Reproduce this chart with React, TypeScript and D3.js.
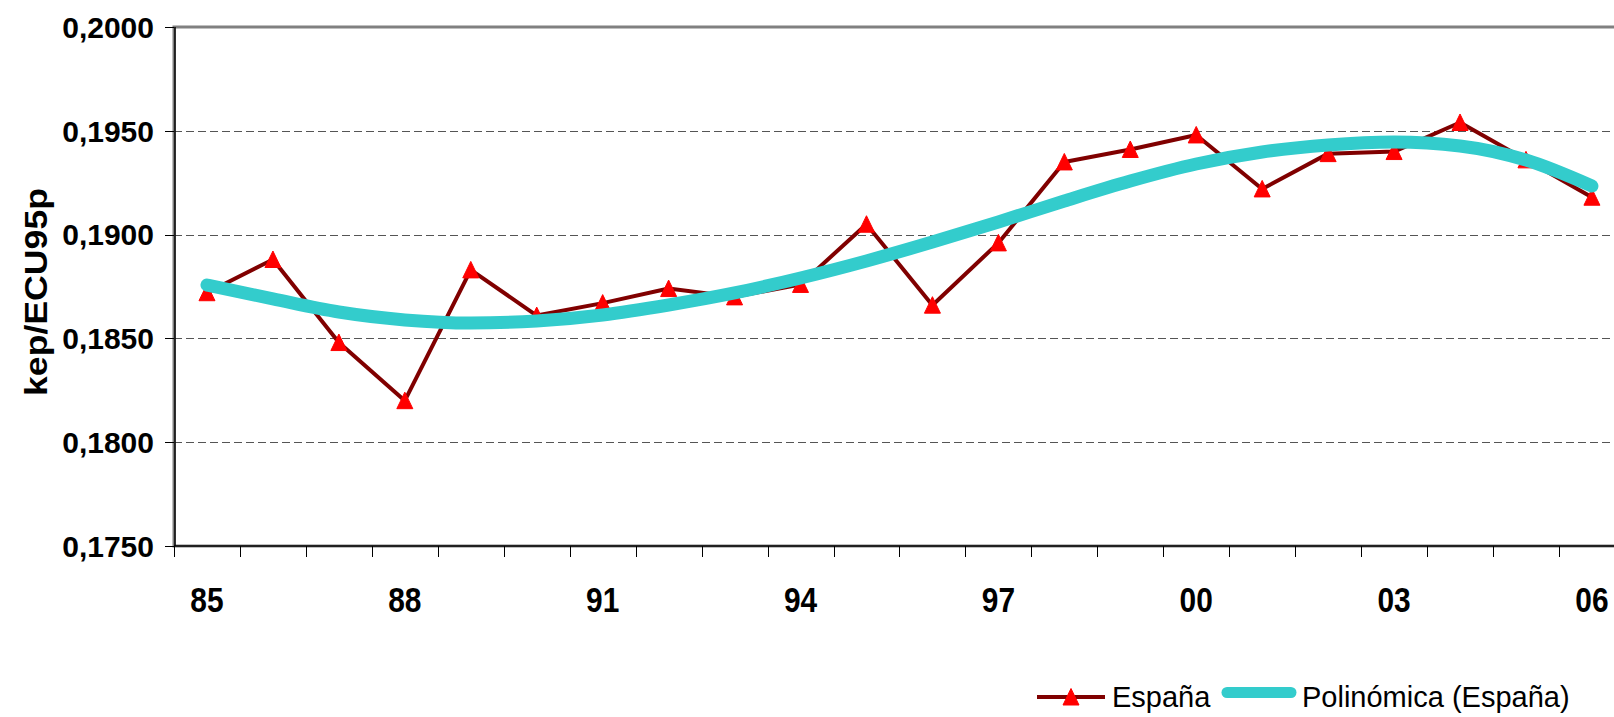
import React from 'react';
import * as d3 from 'd3';

const years = ['85', '86', '87', '88', '89', '90', '91', '92', '93', '94', '95', '96', '97', '98', '99', '00', '01', '02', '03', '04', '05', '06']
const espana = [0.1872, 0.1888, 0.1848, 0.182, 0.1883, 0.1861, 0.1867, 0.1874, 0.187, 0.1876, 0.1905, 0.1866, 0.1896, 0.1935, 0.1941, 0.1948, 0.1922, 0.1939, 0.194, 0.1954, 0.1936, 0.1918]
// polynomial trend at each year
const trend = [0.18757, 0.1869, 0.18627, 0.18589, 0.18574, 0.18584, 0.18613, 0.18661, 0.18719, 0.18791, 0.18873, 0.18964, 0.19061, 0.19162, 0.19258, 0.1934, 0.19398, 0.19432, 0.19446, 0.19427, 0.19359, 0.19234]
const yTicks = [0.175, 0.18, 0.185, 0.19, 0.195, 0.2]
const labelYears = ['85', '88', '91', '94', '97', '00', '03', '06']
const seriesNames = ['España', 'Polinómica (España)']

const W = 1614
const H = 717
const plot = { left: 174, top: 27, bottom: 546, step: 65.95 }
const font = '"Liberation Sans", Arial, sans-serif'
const colors = { line: '#800000', marker: '#FF0000', trend: '#33CCCC', grid: '#555555', frame: '#808080' }

const tri = 'M0,-8.5 L8,8 L-8,8 Z'

export default function App() {
  const right = plot.left + plot.step * years.length
  const x = d3.scaleBand().domain(years).range([plot.left, right]).padding(0)
  const y = d3.scaleLinear().domain([0.175, 0.2]).range([plot.bottom, plot.top])
  const cx = (d: string) => (x(d) as number) + x.bandwidth() / 2
  const crisp = (v: number) => Math.round(v) + 0.5

  const line = d3
    .line<number>()
    .x((d, i) => cx(years[i]))
    .y(d => y(d))
  const trendLine = d3
    .line<number>()
    .x((d, i) => cx(years[i]))
    .y(d => y(d))
    .curve(d3.curveMonotoneX)

  const boundaries = d3.range(years.length + 1).map(i => plot.left + i * x.bandwidth())

  return (
    <svg
      width={W}
      height={H}
      style={{ position: 'absolute', left: 0, top: 0, background: '#fff' }}
    >
      <rect x={0} y={0} width={W} height={H} fill="#fff" />
      {/* gridlines */}
      {yTicks.slice(1, -1).map(t => (
        <line
          key={t}
          x1={plot.left}
          x2={right}
          y1={crisp(y(t))}
          y2={crisp(y(t))}
          stroke={colors.grid}
          strokeWidth={1}
          strokeDasharray="8 4"
        />
      ))}
      {/* plot frame */}
      <rect
        x={plot.left}
        y={plot.top}
        width={right - plot.left}
        height={plot.bottom - plot.top}
        fill="none"
        stroke={colors.frame}
        strokeWidth={3}
      />
      {/* data series */}
      <path d={line(espana) || ''} fill="none" stroke={colors.line} strokeWidth={4} strokeLinejoin="round" />
      {espana.map((v, i) => (
        <path
          key={i}
          d={tri}
          transform={`translate(${cx(years[i])},${y(v)})`}
          fill={colors.marker}
          stroke={colors.marker}
          strokeWidth={1}
          strokeLinejoin="round"
        />
      ))}
      <path
        d={trendLine(trend) || ''}
        fill="none"
        stroke={colors.trend}
        strokeWidth={13}
        strokeLinecap="round"
        strokeLinejoin="round"
      />
      {/* axes */}
      <line x1={plot.left + 1} x2={plot.left + 1} y1={plot.top} y2={plot.bottom} stroke="#000" strokeWidth={1.5} />
      <line x1={plot.left} x2={right} y1={plot.bottom} y2={plot.bottom} stroke="#000" strokeWidth={1.5} />
      {yTicks.map(t => (
        <g key={t}>
          <line x1={165} x2={plot.left} y1={crisp(y(t))} y2={crisp(y(t))} stroke="#000" strokeWidth={1} />
          <text
            x={154}
            y={y(t)}
            dy="0.36em"
            textAnchor="end"
            fontFamily={font}
            fontWeight="bold"
            fontSize={30}
            fill="#000"
          >
            {d3.format('.4f')(t).replace('.', ',')}
          </text>
        </g>
      ))}
      {boundaries.map((b, i) => (
        <line key={i} x1={crisp(b)} x2={crisp(b)} y1={plot.bottom} y2={557} stroke="#000" strokeWidth={1} />
      ))}
      {labelYears.map(d => (
        <text
          key={d}
          transform={`translate(${cx(d)},612) scale(0.83,1)`}
          textAnchor="middle"
          fontFamily={font}
          fontWeight="bold"
          fontSize={36}
          fill="#000"
        >
          {d}
        </text>
      ))}
      <text
        transform="translate(47,292) rotate(-90) scale(1.15,1)"
        textAnchor="middle"
        fontFamily={font}
        fontWeight="bold"
        fontSize={31}
        fill="#000"
      >
        kep/ECU95p
      </text>
      {/* legend */}
      <line x1={1037} x2={1105} y1={697} y2={697} stroke={colors.line} strokeWidth={4} />
      <path d={tri} transform="translate(1071,697)" fill={colors.marker} stroke={colors.marker} strokeWidth={1} strokeLinejoin="round" />
      <text x={1112} y={707} fontFamily={font} fontSize={29} fill="#000">
        {seriesNames[0]}
      </text>
      <line x1={1227} x2={1291} y1={692.5} y2={692.5} stroke={colors.trend} strokeWidth={11} strokeLinecap="round" />
      <text x={1302} y={707} fontFamily={font} fontSize={29} fill="#000">
        {seriesNames[1]}
      </text>
    </svg>
  )
}
